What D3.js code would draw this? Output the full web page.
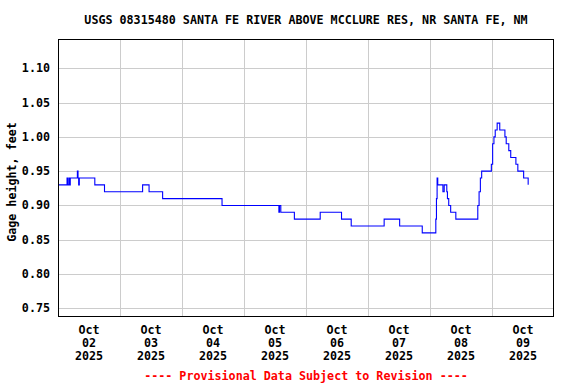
<!DOCTYPE html>
<html>
<head>
<meta charset="utf-8">
<script src="https://cdn.jsdelivr.net/npm/d3@7"></script>
<style>
  body { margin: 0; background: #fff; }
  svg text { font-family: "DejaVu Sans Mono", "Liberation Mono", monospace; font-weight: bold; font-size: 11.7px; }
</style>
</head>
<body>
<svg id="chart" width="576" height="384"></svg>
<script>
// gage height readings (only where the value changes), 2025
const times = [
  "10-02 00:00", "10-02 03:30", "10-02 03:45", "10-02 04:15", "10-02 04:30", "10-02 04:45",
  "10-02 07:30", "10-02 07:45", "10-02 08:00", "10-02 08:15", "10-02 14:15", "10-02 18:00",
  "10-03 08:45", "10-03 11:15", "10-03 16:30", "10-04 15:30",
  "10-05 13:30", "10-05 13:45", "10-05 14:15", "10-05 19:30",
  "10-06 05:30", "10-06 13:45", "10-06 17:30",
  "10-07 06:15", "10-07 12:15", "10-07 21:00",
  "10-08 02:15", "10-08 02:30", "10-08 02:45", "10-08 03:00", "10-08 05:00", "10-08 05:30",
  "10-08 06:30", "10-08 06:45", "10-08 07:15", "10-08 08:00", "10-08 10:00",
  "10-08 18:30", "10-08 19:00", "10-08 19:30", "10-08 20:00", "10-08 23:45",
  "10-09 00:15", "10-09 00:45", "10-09 01:15", "10-09 02:00", "10-09 03:00", "10-09 05:00",
  "10-09 05:30", "10-09 06:30", "10-09 07:15", "10-09 09:15", "10-09 10:00", "10-09 12:15",
  "10-09 14:00"
];
const values = [
  0.93, 0.94, 0.93, 0.94, 0.93, 0.94,
  0.95, 0.94, 0.93, 0.94, 0.93, 0.92,
  0.93, 0.92, 0.91, 0.90,
  0.89, 0.90, 0.89, 0.88,
  0.89, 0.88, 0.87,
  0.88, 0.87, 0.86,
  0.88, 0.91, 0.94, 0.93, 0.92, 0.93,
  0.92, 0.91, 0.90, 0.89, 0.88,
  0.90, 0.92, 0.94, 0.95, 0.96,
  0.99, 1.00, 1.01, 1.02, 1.01, 1.00,
  0.99, 0.98, 0.97, 0.96, 0.95, 0.94,
  0.93
];
const yTicks = [0.75, 0.80, 0.85, 0.90, 0.95, 1.00, 1.05, 1.10];
const dayLabels = ["02", "03", "04", "05", "06", "07", "08", "09"];

const title = "USGS 08315480 SANTA FE RIVER ABOVE MCCLURE RES, NR SANTA FE, NM";
const yTitle = "Gage height, feet";
const footer = "---- Provisional Data Subject to Revision ----";

const parse = d3.timeParse("%Y-%m-%d %H:%M");
const data = times.map((t, i) => ({ date: parse("2025-" + t), value: values[i] }));

const svg = d3.select("#chart");
const pLeft = 58, pRight = 554, pTop = 39, pBottom = 316;

const x = d3.scaleTime()
  .domain([parse("2025-10-02 00:00"), parse("2025-10-10 00:00")])
  .range([pLeft, pRight]);
const y = d3.scaleLinear()
  .domain([0.7388, 1.1427])
  .range([pBottom, pTop]);

// grid
const days = d3.timeDay.range(parse("2025-10-03 00:00"), parse("2025-10-10 00:00"));
svg.append("g").selectAll("line").data(days).join("line")
  .attr("x1", d => Math.round(x(d)) + 0.5).attr("x2", d => Math.round(x(d)) + 0.5)
  .attr("y1", pTop).attr("y2", pBottom)
  .attr("stroke", "#cccccc");
svg.append("g").selectAll("line").data(yTicks).join("line")
  .attr("x1", pLeft).attr("x2", pRight)
  .attr("y1", d => Math.round(y(d)) + 0.5).attr("y2", d => Math.round(y(d)) + 0.5)
  .attr("stroke", "#cccccc");

// data line
const line = d3.line()
  .x(d => x(d.date))
  .y(d => y(d.value))
  .curve(d3.curveStepAfter);
svg.append("path")
  .datum(data)
  .attr("d", line)
  .attr("fill", "none")
  .attr("stroke", "#0000ff")
  .attr("stroke-width", 1.1);

// frame
svg.append("rect")
  .attr("x", pLeft + 0.5).attr("y", pTop + 0.5)
  .attr("width", pRight - pLeft - 1).attr("height", pBottom - pTop)
  .attr("fill", "none").attr("stroke", "#000");

// y tick labels
svg.append("g").selectAll("text").data(yTicks).join("text")
  .attr("x", pLeft - 8)
  .attr("y", d => y(d) + 4)
  .attr("text-anchor", "end")
  .text(d => d.toFixed(2));

// x labels, centred on noon of each day
const noon = dayLabels.map(d => parse("2025-10-" + d + " 12:00"));
const xl = svg.append("g").selectAll("text").data(noon).join("text")
  .attr("text-anchor", "middle")
  .attr("transform", d => `translate(${x(d)},0)`);
xl.append("tspan").attr("x", 0).attr("y", 334).text("Oct");
xl.append("tspan").attr("x", 0).attr("y", 347).text((d, i) => dayLabels[i]);
xl.append("tspan").attr("x", 0).attr("y", 360).text("2025");

// titles
svg.append("text")
  .attr("x", (pLeft + pRight) / 2).attr("y", 24)
  .attr("text-anchor", "middle")
  .text(title);
svg.append("text")
  .attr("transform", "translate(16,182) rotate(-90)")
  .attr("text-anchor", "middle")
  .text(yTitle);
svg.append("text")
  .attr("x", (pLeft + pRight) / 2).attr("y", 380)
  .attr("text-anchor", "middle")
  .attr("fill", "#ff0000")
  .text(footer);
</script>
</body>
</html>
